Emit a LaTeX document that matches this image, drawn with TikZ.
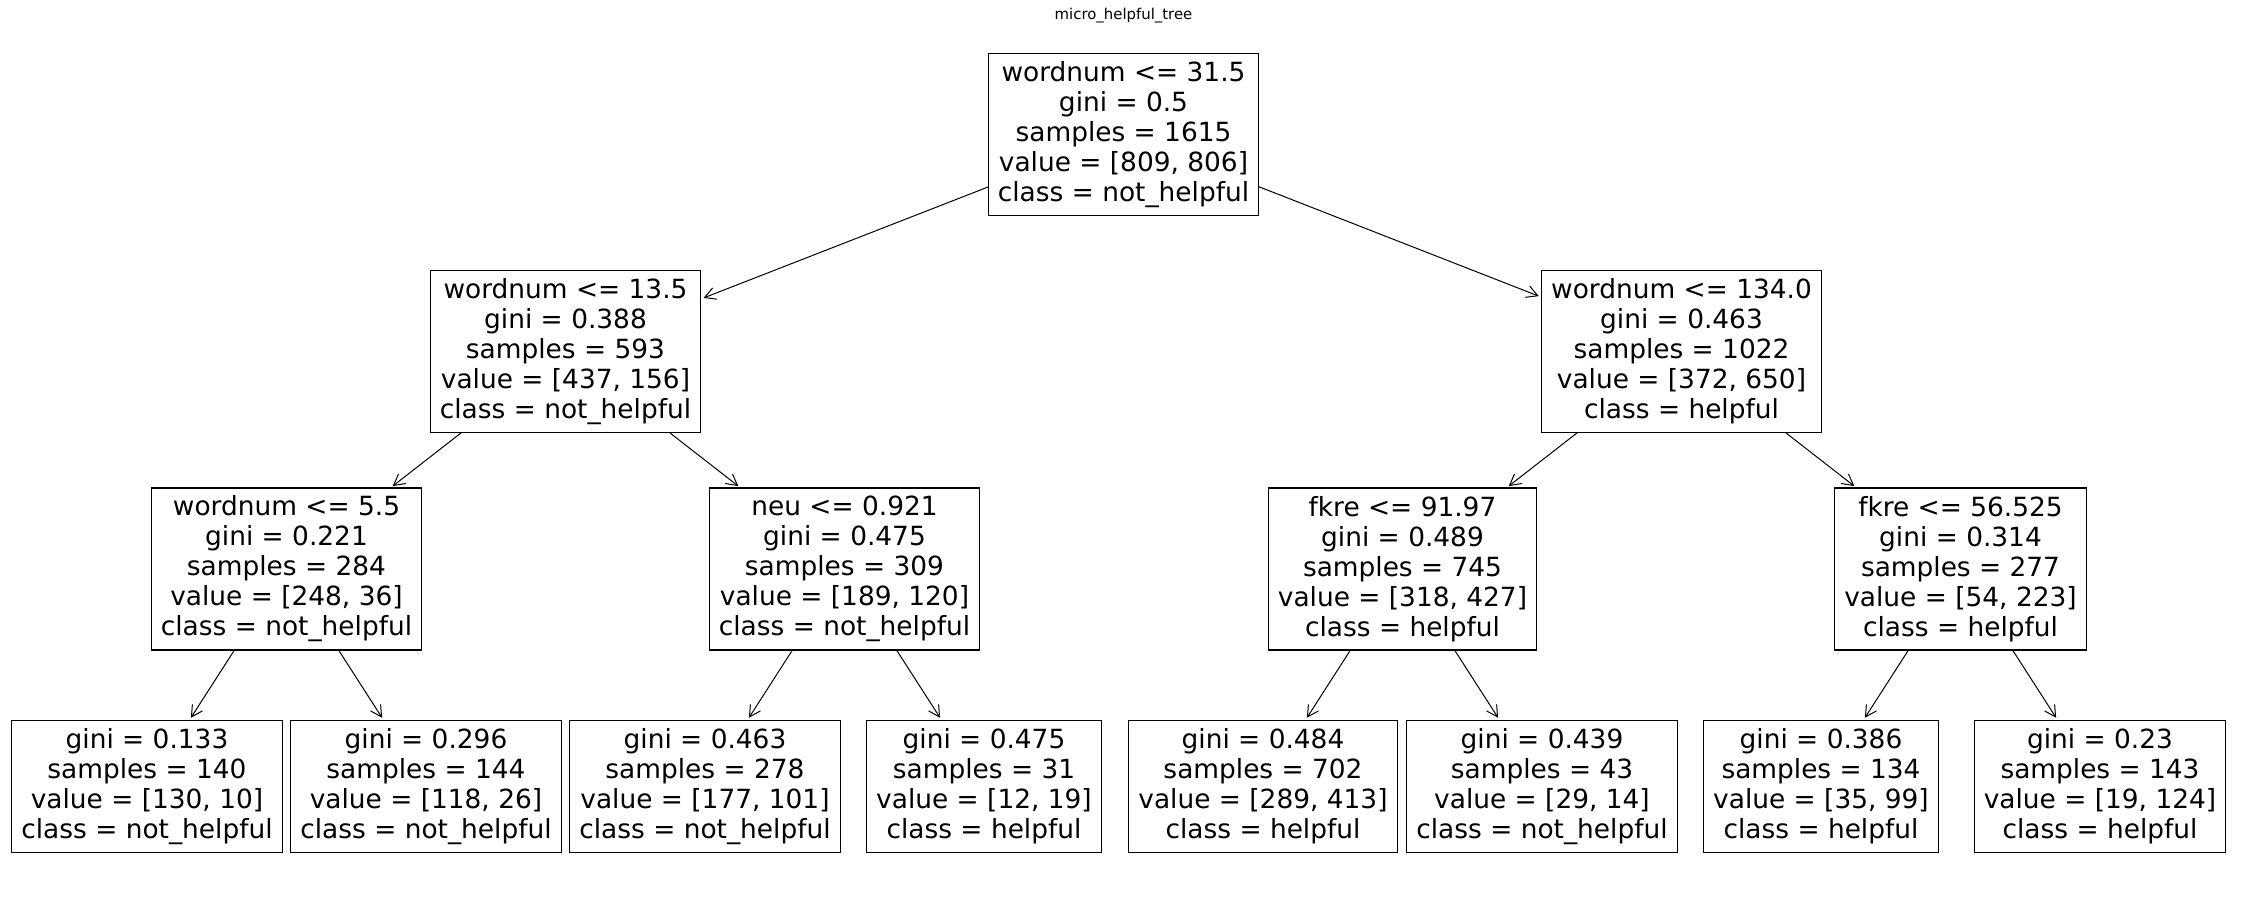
\documentclass[tikz,border=0pt]{standalone}
\usepackage{fontspec}
\setmainfont{DejaVu Sans}
\usetikzlibrary{arrows.meta}
\begin{document}
\begin{tikzpicture}[x=1pt,y=-1pt,
  tnode/.style={draw=black, line width=1.3pt, fill=white, align=center,
    inner xsep=9.6pt, inner ysep=3pt, outer sep=0pt,
    font=\fontsize{26.4}{30}\selectfont},
  splitbox/.style={tnode, minimum height=162pt},
  leafbox/.style={tnode, minimum height=132pt},
  arr/.style={line width=1pt, shorten >=3pt,
    -{Straight Barb[length=11pt,width=12pt,line width=1pt]}},
  titletext/.style={anchor=base, font=\fontsize{14.9}{18}\selectfont}]
\fill[white] (0,0) rectangle (2246,902);
\useasboundingbox (0,0) rectangle (2246,902);

\node[titletext] (title) at (1123.5,19.6) {micro\_helpful\_tree};

\node[splitbox] (n0) at (1123.5,134.2) {wordnum <= 31.5\\gini = 0.5\\samples = 1615\\value = [809, 806]\\class = not\_helpful};

\node[splitbox] (n1) at (565.5,351.5) {wordnum <= 13.5\\gini = 0.388\\samples = 593\\value = [437, 156]\\class = not\_helpful};
\node[splitbox] (n2) at (1681.5,351.5) {wordnum <= 134.0\\gini = 0.463\\samples = 1022\\value = [372, 650]\\class = helpful};

\node[splitbox] (n3) at (286.5,569) {wordnum <= 5.5\\gini = 0.221\\samples = 284\\value = [248, 36]\\class = not\_helpful};
\node[splitbox] (n4) at (844.5,569) {neu <= 0.921\\gini = 0.475\\samples = 309\\value = [189, 120]\\class = not\_helpful};
\node[splitbox] (n5) at (1402.5,569) {fkre <= 91.97\\gini = 0.489\\samples = 745\\value = [318, 427]\\class = helpful};
\node[splitbox] (n6) at (1960.5,569) {fkre <= 56.525\\gini = 0.314\\samples = 277\\value = [54, 223]\\class = helpful};

\node[leafbox] (l1) at (147,786.3) {gini = 0.133\\samples = 140\\value = [130, 10]\\class = not\_helpful};
\node[leafbox] (l2) at (426,786.3) {gini = 0.296\\samples = 144\\value = [118, 26]\\class = not\_helpful};
\node[leafbox] (l3) at (705,786.3) {gini = 0.463\\samples = 278\\value = [177, 101]\\class = not\_helpful};
\node[leafbox] (l4) at (984,786.3) {gini = 0.475\\samples = 31\\value = [12, 19]\\class = helpful};
\node[leafbox] (l5) at (1263,786.3) {gini = 0.484\\samples = 702\\value = [289, 413]\\class = helpful};
\node[leafbox] (l6) at (1542,786.3) {gini = 0.439\\samples = 43\\value = [29, 14]\\class = not\_helpful};
\node[leafbox] (l7) at (1821,786.3) {gini = 0.386\\samples = 134\\value = [35, 99]\\class = helpful};
\node[leafbox] (l8) at (2100,786.3) {gini = 0.23\\samples = 143\\value = [19, 124]\\class = helpful};

\draw[arr] (n0) -- (n1);
\draw[arr] (n0) -- (n2);
\draw[arr] (n1) -- (n3);
\draw[arr] (n1) -- (n4);
\draw[arr] (n2) -- (n5);
\draw[arr] (n2) -- (n6);
\draw[arr] (n3) -- (l1);
\draw[arr] (n3) -- (l2);
\draw[arr] (n4) -- (l3);
\draw[arr] (n4) -- (l4);
\draw[arr] (n5) -- (l5);
\draw[arr] (n5) -- (l6);
\draw[arr] (n6) -- (l7);
\draw[arr] (n6) -- (l8);
\end{tikzpicture}
\end{document}
